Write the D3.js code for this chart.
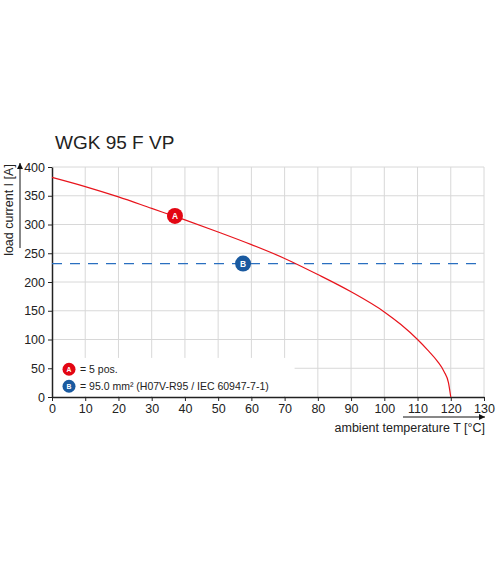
<!DOCTYPE html>
<html><head><meta charset="utf-8">
<script src="https://cdn.jsdelivr.net/npm/d3@7"></script>
<style>body{margin:0;background:#fff}text{font-family:Arial,"Liberation Sans",sans-serif;fill:#222}</style>
</head><body><div id="chart"></div>
<script>
// curve values
var temps = [0, 10, 20, 30, 40, 50, 60, 70, 80, 90, 100, 105, 110, 113, 116, 118, 119.3, 120];
var currents = [382, 366, 348, 328, 308, 287, 265, 241, 213, 183, 148, 126, 100, 82, 62, 44, 25, 0];
var cableLimit = 232;
var xTicks = d3.range(0, 131, 10);
var yTicks = d3.range(0, 401, 50);
var markers = [{label: "A", t: 37, v: 315, color: "#e30613"}, {label: "B", t: 57.5, v: 232, color: "#1a5aa0"}];
var legendText = ["= 5 pos.", "= 95.0 mm\u00b2 (H07V-R95 / IEC 60947-7-1)"];

var margin = {top: 167, left: 52},
    width = 432, height = 230;

var svg = d3.select("#chart").append("svg").attr("width", 501).attr("height", 565)
var g = svg.append("g").attr("transform", "translate(" + margin.left + "," + margin.top + ")");

var x = d3.scaleLinear().domain([0, 130]).range([0, width]);
var y = d3.scaleLinear().domain([0, 400]).range([height, 0]);

svg.append("text").attr("x", 55).attr("y", 149).style("font-size", "19px").text("WGK 95 F VP");

// grid
g.selectAll(".vg").data(xTicks.slice(1)).enter().append("line")
    .attr("x1", d => x(d)).attr("x2", d => x(d)).attr("y1", 0).attr("y2", height)
    .attr("stroke", "#d8d8d8");
g.selectAll(".hg").data(yTicks.slice(1)).enter().append("line")
    .attr("x1", 0).attr("x2", width).attr("y1", d => y(d)).attr("y2", d => y(d))
    .attr("stroke", "#d8d8d8");
// legend background hides grid
g.append("rect").attr("x", 1).attr("y", y(68)).attr("width", x(73) - 1).attr("height", height - y(68) - 1).attr("fill", "#fff");

// axes
var xa = g.append("g").attr("transform", "translate(0," + height + ")")
    .call(d3.axisBottom(x).tickValues(xTicks).tickSize(4).tickSizeOuter(0));
var ya = g.append("g").call(d3.axisLeft(y).tickValues(yTicks).tickSize(4).tickSizeOuter(0));
[xa, ya].forEach(function(a) {
    a.select(".domain").attr("stroke", "#222").attr("stroke-width", 1.5);
    a.selectAll("line").attr("stroke", "#222");
    a.selectAll("text").style("font-size", "12.5px").attr("fill", "#222");
});

// cable limit
g.append("line").attr("x1", 0).attr("x2", x(128)).attr("y1", y(cableLimit)).attr("y2", y(cableLimit))
    .attr("stroke", "#2a6fc0").attr("stroke-dasharray", "10,8").attr("stroke-width", 1.3);

// derating curve
var pts = temps.map((t, i) => [t, currents[i]]);
g.append("path").datum(pts)
    .attr("d", d3.line().x(d => x(d[0])).y(d => y(d[1])).curve(d3.curveMonotoneX))
    .attr("fill", "none").attr("stroke", "#e8141c").attr("stroke-width", 1.2);

function badge(sel, m, cx, cy, r) {
    sel.append("circle").attr("cx", cx).attr("cy", cy).attr("r", r).attr("fill", m.color);
    sel.append("text").attr("x", cx).attr("y", cy + r * 0.38).attr("text-anchor", "middle")
        .style("font-size", (r * 1.05) + "px").style("font-weight", "bold").style("fill", "#fff").text(m.label);
}
markers.forEach(m => badge(g, m, x(m.t), y(m.v), 8));

// legend
markers.forEach(function(m, i) {
    var ly = y(50) + 1 + i * 17;
    badge(g, m, 17, ly, 6.5);
    g.append("text").attr("x", 28).attr("y", ly + 4).style("font-size", "10.5px").text(legendText[i]);
});

// axis titles with arrows
svg.append("defs").append("marker").attr("id", "ar").attr("viewBox", "0 0 10 10")
    .attr("refX", 10).attr("refY", 5).attr("markerWidth", 6).attr("markerHeight", 6).attr("orient", "auto")
    .append("path").attr("d", "M0,0L10,5L0,10Z").attr("fill", "#111");
svg.append("line").attr("x1", 20).attr("x2", 20).attr("y1", 248).attr("y2", 163)
    .attr("stroke", "#111").attr("marker-end", "url(#ar)");
svg.append("text").attr("transform", "translate(13,210) rotate(-90)").attr("text-anchor", "middle")
    .style("font-size", "12.5px").text("load current I [A]");
svg.append("line").attr("x1", 403).attr("x2", 485).attr("y1", 417).attr("y2", 417)
    .attr("stroke", "#111").attr("marker-end", "url(#ar)");
svg.append("text").attr("x", 485).attr("y", 432).attr("text-anchor", "end")
    .style("font-size", "12.5px").text("ambient temperature T [\u00b0C]");
</script></body></html>
